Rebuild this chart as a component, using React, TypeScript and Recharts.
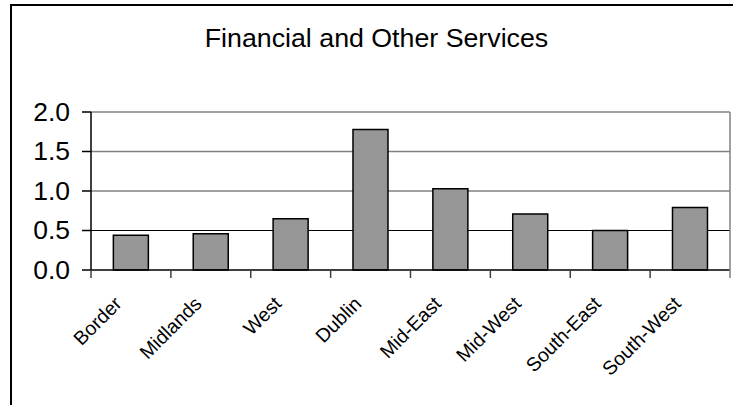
import { BarChart, Bar, XAxis, YAxis, CartesianGrid } from 'recharts';

const regions = ['Border', 'Midlands', 'West', 'Dublin', 'Mid-East', 'Mid-West', 'South-East', 'South-West'];
const values = [0.44, 0.46, 0.65, 1.78, 1.03, 0.71, 0.5, 0.79];
const yTicks = [0, 0.5, 1, 1.5, 2];
const grayGrid = [1, 1.5, 2];
const darkGrid = [0.5];
const title = 'Financial and Other Services';

const data = regions.map((name, i) => ({ name, value: values[i] }));

const FONT = '"Liberation Sans", Arial, sans-serif';

function RegionTick(props: any) {
    const { x, y, payload, index, visibleTicksCount, width } = props;
    let half = payload && payload.offset;
    if (!half) half = width && visibleTicksCount ? width / visibleTicksCount / 2 : 40;
    const last = index === visibleTicksCount - 1;
    const tx = x - 8;
    const ty = y + 35;
    return (
        <g>
            <line x1={x - half} x2={x - half} y1={y} y2={y + 8} stroke="#404040" strokeWidth={1.5} />
            {last && <line x1={x + half} x2={x + half} y1={y - 158} y2={y + 8} stroke="#808080" strokeWidth={1.5} />}
            <text
                x={tx}
                y={ty}
                transform={`rotate(-45, ${tx}, ${ty})`}
                textAnchor="end"
                fontSize={19.5}
                fontFamily={FONT}
                fill="#000"
            >
                {payload.value}
            </text>
        </g>
    );
}

function ValueTick(props: any) {
    const { x, y, payload, tickFormatter } = props;
    const label = tickFormatter ? tickFormatter(payload.value) : String(payload.value);
    return (
        <text
            x={x}
            y={y}
            dy="0.36em"
            textAnchor="end"
            fontSize={25}
            fontFamily={FONT}
            fill="#000"
            transform={`translate(${x}, 0) scale(1.06, 1) translate(${-x}, 0)`}
        >
            {label}
        </text>
    );
}

export default function App() {
    return (
        <div style={{ position: 'absolute', left: 0, top: 0, width: 733, height: 405, overflow: 'hidden', background: '#fff' }}>
            <div
                style={{
                    position: 'absolute',
                    left: 10,
                    top: 4,
                    width: 800,
                    height: 500,
                    border: '2px solid #000',
                }}
            />
            <div
                style={{
                    position: 'absolute',
                    left: 0,
                    top: 26,
                    width: 753,
                    textAlign: 'center',
                    fontFamily: FONT,
                    fontSize: 25,
                    lineHeight: '25px',
                    color: '#000',
                    transform: 'scaleX(1.07)',
                }}
            >
                {title}
            </div>
            <div style={{ position: 'absolute', left: 0, top: 0 }}>
                <BarChart
                    width={733}
                    height={405}
                    data={data}
                    margin={{ top: 112, right: 3, left: 0, bottom: 0 }}
                    barCategoryGap="28%"
                >
                    <CartesianGrid vertical={false} horizontalValues={grayGrid} stroke="#808080" strokeWidth={1.5} />
                    <CartesianGrid vertical={false} horizontalValues={darkGrid} stroke="#000" strokeWidth={1} />
                    <XAxis
                        dataKey="name"
                        height={135}
                        interval={0}
                        tickLine={false}
                        tickSize={0}
                        tickMargin={0}
                        axisLine={{ stroke: '#000', strokeWidth: 1.5 }}
                        tick={<RegionTick />}
                    />
                    <YAxis
                        width={91}
                        domain={[0, 2]}
                        ticks={yTicks}
                        interval={0}
                        tickFormatter={(v: number) => v.toFixed(1)}
                        tickSize={9}
                        tickMargin={12}
                        tickLine={{ stroke: '#000', strokeWidth: 1.5 }}
                        axisLine={{ stroke: '#000', strokeWidth: 1.5 }}
                        tick={<ValueTick />}
                    />
                    <Bar dataKey="value" fill="#969696" stroke="#000" strokeWidth={1.5} isAnimationActive={false} />
                </BarChart>
            </div>
        </div>
    );
}
